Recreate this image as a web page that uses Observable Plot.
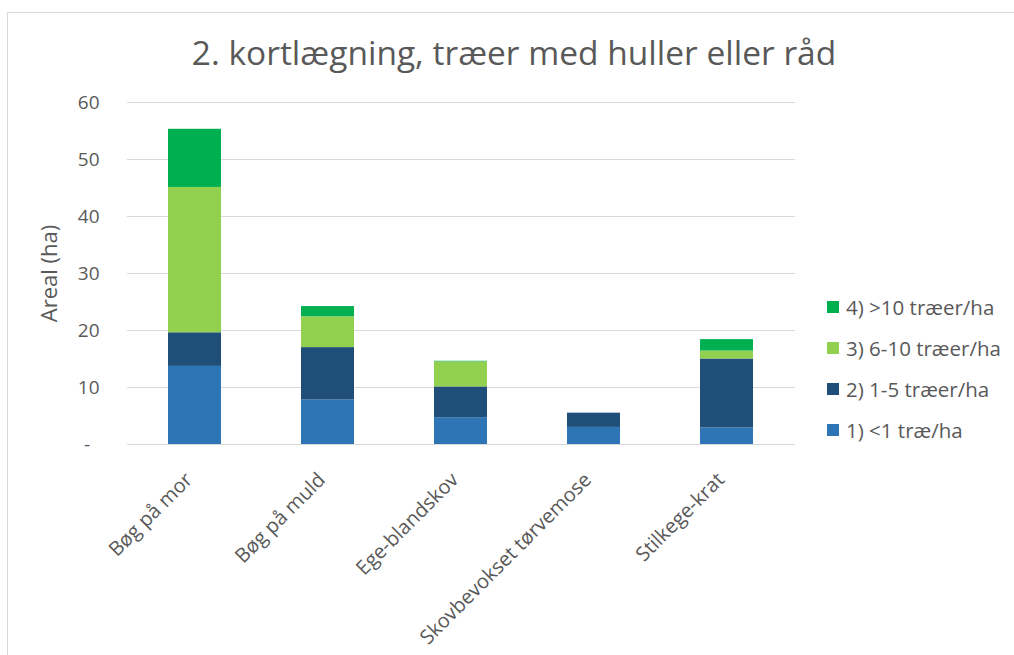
<!DOCTYPE html>
<html><head><meta charset="utf-8">
<script src="https://cdn.jsdelivr.net/npm/d3@7"></script>
<script src="https://cdn.jsdelivr.net/npm/@observablehq/plot@0.6"></script>
<style>
body{margin:0;background:#fff;font-family:"Open Sans",sans-serif;}
#wrap{position:relative;width:1014px;height:655px;overflow:hidden;background:#fff;}
#frame{position:absolute;left:7px;top:12px;width:1030px;height:700px;border:1px solid #d9d9d9;box-sizing:border-box;}
#title{position:absolute;left:7px;top:32px;width:1014px;line-height:40px;text-align:center;font-size:33.5px;color:#595959;white-space:nowrap;}
#chart{position:absolute;left:0;top:0;}
#legend{position:absolute;left:827px;top:0;}
.item{position:absolute;left:0;height:26px;display:flex;align-items:center;white-space:nowrap;font-size:20.5px;color:#595959;}
.sw{width:12px;height:12px;margin-right:7px;}
</style></head>
<body>
<div id="wrap">
  <div id="frame"></div>
  <div id="chart"></div>
  <div id="title">2. kortlægning, træer med huller eller råd</div>
  <div id="legend"></div>
</div>
<script>
const categories = ["Bøg på mor", "Bøg på muld", "Ege-blandskov", "Skovbevokset tørvemose", "Stilkege-krat"];
const seriesNames = ["1) <1 træ/ha", "2) 1-5 træer/ha", "3) 6-10 træer/ha", "4) >10 træer/ha"];
const seriesColors = ["#2E75B6", "#1F4E79", "#92D050", "#00B050"];
const s1 = [13.7, 7.8, 4.7, 3.0, 2.9];
const s2 = [5.9, 9.2, 5.4, 2.5, 12.1];
const s3 = [25.5, 5.4, 4.4, 0, 1.4];
const s4 = [10.2, 1.8, 0.1, 0, 2.0];
const yTicks = [0, 10, 20, 30, 40, 50, 60];

const seriesValues = [s1, s2, s3, s4];
const data = [];
categories.forEach((c, i) => {
  seriesValues.forEach((s, j) => data.push({cat: c, series: seriesNames[j], value: s[i]}));
});

const chart = Plot.plot({
  width: 1014,
  height: 655,
  marginLeft: 127,
  marginRight: 219,
  marginTop: 102,
  marginBottom: 211,
  style: {fontFamily: "'Open Sans', sans-serif", fontSize: "19px", color: "#595959", background: "transparent", overflow: "visible"},
  x: {domain: categories, paddingInner: 0.6, paddingOuter: 0.3, label: null},
  y: {domain: [0, 60], ticks: yTicks, label: "Areal (ha)", labelAnchor: "center", labelArrow: "none"},
  color: {domain: seriesNames, range: seriesColors},
  marks: [
    Plot.gridY(yTicks, {stroke: "#d9d9d9", strokeOpacity: 1, strokeWidth: 1}),
    Plot.barY(data, {x: "cat", y: "value", fill: "series"}),
    Plot.axisY(yTicks, {tickSize: 0, tickPadding: 28, fontSize: 19, fill: "#595959",
      tickFormat: d => d === 0 ? "-\u2002" : String(d), label: "Areal (ha)", labelAnchor: "center", labelArrow: "none", labelOffset: 86}),
    Plot.axisX({tickSize: 0, tickPadding: 28, tickRotate: -45, fontSize: 20, fill: "#595959", label: null, dx: -6, dy: 4})
  ]
});
document.getElementById("chart").appendChild(chart);
chart.querySelectorAll("[aria-label='y-axis label'] text, [aria-label='y-axis label']").forEach(t => { t.style.fontSize = "22px"; });

const legend = document.getElementById("legend");
const order = [3, 2, 1, 0];
order.forEach((j, k) => {
  const it = document.createElement("div");
  it.className = "item";
  it.style.top = (294 + k * 41) + "px";
  const sw = document.createElement("span");
  sw.className = "sw";
  sw.style.background = seriesColors[j];
  const tx = document.createElement("span");
  tx.textContent = seriesNames[j];
  it.appendChild(sw); it.appendChild(tx);
  legend.appendChild(it);
});
</script>
</body></html>
